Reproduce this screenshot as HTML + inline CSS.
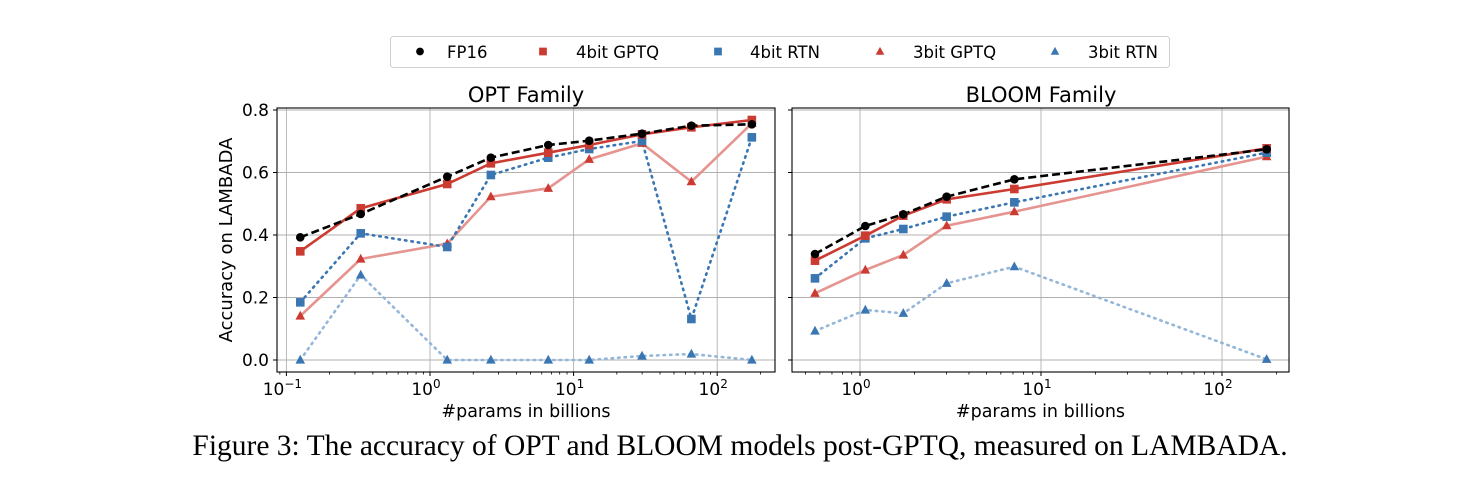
<!DOCTYPE html>
<html><head><meta charset="utf-8"><style>
html,body{margin:0;padding:0;background:#fff;}
svg{display:block;font-family:"DejaVu Sans","Liberation Sans",sans-serif;}
</style></head><body>
<svg id="s" width="1462" height="488" viewBox="0 0 1462 488" xmlns="http://www.w3.org/2000/svg"></svg>
<script>
const S=document.getElementById('s');let h='';
const R='#cc3b32',B='#3a76b2',LR='#e59490',LB='#93b6d9';
function axes(x0,x1,dpx,tx0,decs,labels){
 for(const d of decs){const x=tx0+d*dpx;h+=`<line x1="${x}" y1="108" x2="${x}" y2="372" stroke="#b0b0b0" stroke-width="0.9"/>`;}
 for(let i=0;i<=4;i++){const y=360-i*62.5;h+=`<line x1="${x0}" y1="${y}" x2="${x1}" y2="${y}" stroke="#b0b0b0" stroke-width="0.9"/>`;
  h+=`<line x1="${x0-4}" y1="${y}" x2="${x0}" y2="${y}" stroke="#000"/>`;
  if(labels)h+=`<text x="${x0-8}" y="${y+6}" font-size="17" text-anchor="end">${(i*0.2).toFixed(1)}</text>`;}
 for(let d=-2;d<=3;d++)for(let m=2;m<=9;m++){const x=tx0+(d+Math.log10(m))*dpx;if(x>x0&&x<x1)h+=`<line x1="${x}" y1="372" x2="${x}" y2="374.5" stroke="#000" stroke-width="0.8"/>`;}
 for(const d of decs){const x=tx0+d*dpx;h+=`<line x1="${x}" y1="372" x2="${x}" y2="376" stroke="#000"/><text x="${x-4}" y="395" font-size="17" text-anchor="middle">10<tspan dy="-7" font-size="12">${d<0?'−'+(-d):d}</tspan></text>`;}
 h+=`<rect x="${x0}" y="108" width="${x1-x0}" height="264" fill="none" stroke="#000" stroke-width="1.1"/>`;
 h+=`<text x="${(x0+x1)/2}" y="417" font-size="17.5" text-anchor="middle">#params in billions</text>`;
}
function line(xs,ys,col,dash,w){h+=`<polyline points="${xs.map((x,i)=>x+','+ys[i]).join(' ')}" fill="none" stroke="${col}" stroke-width="${w}" ${dash?`stroke-dasharray="${dash}"`:''} stroke-linecap="${dash&&dash.startsWith('1.')?'round':'butt'}"/>`;}
function mk(xs,ys,col,t,k){k=k||1;xs.forEach((x,i)=>{const y=ys[i];
 if(t=='o')h+=`<circle cx="${x}" cy="${y}" r="${4.3*k}" fill="${col}"/>`;
 else if(t=='s')h+=`<rect x="${x-4.3*k}" y="${y-4.3*k}" width="${8.6*k}" height="${8.6*k}" fill="${col}"/>`;
 else h+=`<polygon points="${x},${y-5.2*k} ${x-4.8*k},${y+3.6*k} ${x+4.8*k},${y+3.6*k}" fill="${col}"/>`;});}
axes(277,775,143.6,430,[-1,0,1,2],true);
const lx=[262,420,646,760,910,1017,1155,1284,1442].map(z=>200+z/2.613);
const ly=a=>a.map(z=>30+z/3);
const L={f:ly([622,552,440,383,345,332,311,287,283]),g4:ly([664,535,462,400,368,345,313,292,270]),r4:ly([817,610,651,435,383,357,333,867,322]),g3:ly([858,687,641,500,475,388,340,455,280]),r3:ly([990,735,990,990,990,990,978,972,990])};
function series(xs,D){
 line(xs,D.r3,LB,'1.5 5',2.6);line(xs,D.g3,LR,null,2.6);line(xs,D.r4,B,'1.5 5',2.6);line(xs,D.g4,R,null,2.6);line(xs,D.f,'#000','8 4',2.6);
 mk(xs,D.r3,B,'t');mk(xs,D.g3,R,'t');mk(xs,D.r4,B,'s');mk(xs,D.g4,R,'s');mk(xs,D.f,'#000','o');
}
series(lx,L);
axes(792,1289,181,860,[0,1,2],false);
const rx=[105,256,370,500,703,1460].map(z=>780+z/3);
const RD={f:ly([672,588,553,500,448,358]),g4:ly([692,617,557,508,477,355]),r4:ly([745,625,597,560,517,368]),g3:ly([790,720,675,587,545,380]),r3:ly([903,840,850,760,710,988])};
series(rx,RD);
h+=`<text x="526" y="102" font-size="21" text-anchor="middle">OPT Family</text><text x="1041" y="102" font-size="21" text-anchor="middle">BLOOM Family</text>`;
h+=`<text transform="translate(232,240) rotate(-90)" font-size="18" text-anchor="middle">Accuracy on LAMBADA</text>`;
h+=`<rect x="390.5" y="36.5" width="779" height="31" rx="3" fill="#fff" stroke="#d0d0d0"/>`;
mk([420],[51.5],'#000','o',0.9);mk([543],[51.5],R,'s',0.9);mk([718],[51.5],B,'s',0.9);mk([880],[51.5],R,'t',0.9);mk([1055],[51.5],B,'t',0.9);
[['FP16',447],['4bit GPTQ',576],['4bit RTN',750],['3bit GPTQ',913],['3bit RTN',1088]].forEach(([t,x])=>h+=`<text x="${x}" y="58" font-size="16.5">${t}</text>`);
h+=`<text x="740" y="455" font-size="29.5" text-anchor="middle" font-family="Liberation Serif,serif">Figure 3: The accuracy of OPT and BLOOM models post-GPTQ, measured on LAMBADA.</text>`;
S.innerHTML=h;
</script>
</body></html>
